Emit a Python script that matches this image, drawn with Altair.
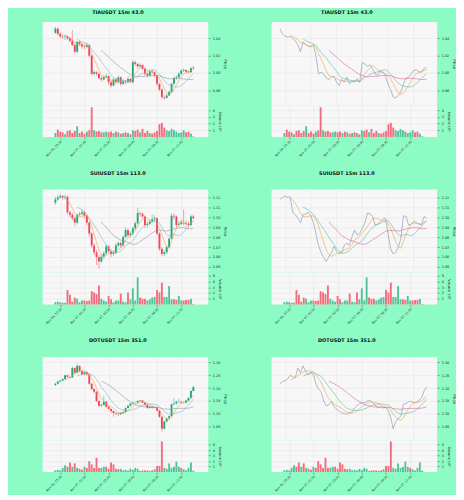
import altair as alt
import pandas as pd

# ---------------- data ----------------
titles = ["TIAUSDT 15m 43.0", "SUIUSDT 15m 113.0", "DOTUSDT 15m 351.0"]
tick_idx = [2, 12, 22, 32, 42, 52]
tick_labels = ["Nov 06, 22:30", "Nov 07, 01:00", "Nov 07, 03:30",
               "Nov 07, 06:00", "Nov 07, 08:30", "Nov 07, 11:00"]

tia_first_open = 1.046
tia_close = [1.051,1.045,1.042,1.0415,1.042,1.0396,1.037,1.032,1.0244,1.0358,
             1.033,1.0305,1.030,1.032,1.0198,0.9989,1.0008,0.999,0.994,0.9924,
             0.995,0.9962,0.9893,0.9855,0.9924,0.9893,0.995,0.9874,0.990,0.9893,
             0.9931,0.9893,1.0122,1.0103,1.0076,1.0091,1.0046,0.9989,0.997,1.0015,
             1.0008,0.997,0.9874,0.981,0.9722,0.9714,0.974,0.978,0.9874,0.994,
             0.995,0.999,1.0027,1.0034,1.0015,1.0008,1.0053,1.006]
tia_high = [1.053,1.052,1.047,1.044,1.044,1.043,1.041,1.049,1.034,1.037,
            1.037,1.035,1.033,1.035,1.033,1.021,1.003,1.002,1.000,0.996,
            0.997,0.999,0.997,0.991,0.994,0.994,0.997,0.996,0.993,0.992,
            0.996,0.994,1.015,1.014,1.011,1.011,1.010,1.006,1.000,1.004,
            1.004,1.002,0.998,0.988,0.982,0.974,0.976,0.980,0.989,0.996,
            0.997,1.001,1.004,1.005,1.004,1.003,1.007,1.008]
tia_low = [1.045,1.043,1.040,1.039,1.038,1.038,1.035,1.031,1.022,1.023,
           1.031,1.028,1.027,1.028,1.018,0.997,0.997,0.997,0.992,0.990,
           0.991,0.994,0.986,0.983,0.984,0.987,0.988,0.985,0.986,0.987,
           0.988,0.988,0.988,1.008,1.005,1.006,1.003,0.997,0.995,0.996,
           0.999,0.995,0.985,0.979,0.970,0.969,0.970,0.973,0.977,0.986,
           0.992,0.994,0.998,1.001,1.000,0.999,1.000,1.004]
tia_vol = [0.6,1.1,0.8,0.7,0.4,0.9,1.0,0.6,0.9,1.6,
           0.6,0.8,0.5,0.8,1.0,4.4,1.0,0.8,0.9,0.7,
           0.7,0.8,0.7,0.8,0.6,0.8,0.7,0.5,0.6,0.7,
           0.6,0.4,1.0,0.9,1.1,0.7,1.2,0.6,0.9,0.6,
           0.5,0.7,0.9,1.9,2.1,1.4,1.0,0.9,1.2,1.0,
           0.8,0.6,0.7,1.0,0.7,0.8,0.5,0.1]

sui_first_open = 1.115
sui_close = [1.1183,1.1203,1.1217,1.1203,1.121,1.1052,1.1028,1.0993,1.0948,1.1028,
             1.1038,1.1052,1.1017,1.0948,1.0838,1.0717,1.0648,1.0597,1.0555,1.0603,
             1.0638,1.0707,1.0659,1.0631,1.0645,1.0717,1.0741,1.0717,1.0803,1.0872,
             1.0821,1.0838,1.089,1.0941,1.1045,1.1038,1.101,1.0924,1.0934,1.0959,
             1.0983,1.0993,1.0838,1.0683,1.0631,1.0648,1.07,1.0786,1.1017,1.101,
             1.0924,1.0934,1.0948,1.0941,1.0934,1.0924,1.101,1.0993]
sui_high = [1.121,1.123,1.124,1.123,1.123,1.122,1.107,1.105,1.101,1.104,
            1.106,1.108,1.107,1.103,1.096,1.085,1.074,1.067,1.062,1.063,
            1.066,1.073,1.072,1.068,1.067,1.074,1.076,1.076,1.082,1.090,
            1.089,1.086,1.091,1.096,1.110,1.106,1.105,1.102,1.096,1.098,
            1.103,1.102,1.100,1.085,1.070,1.067,1.072,1.080,1.104,1.104,
            1.102,1.096,1.098,1.108,1.097,1.096,1.103,1.103]
sui_low = [1.113,1.117,1.119,1.118,1.118,1.103,1.100,1.097,1.091,1.093,
           1.101,1.102,1.099,1.092,1.081,1.069,1.062,1.052,1.048,1.054,
           1.058,1.062,1.064,1.060,1.061,1.063,1.070,1.069,1.070,1.079,
           1.080,1.080,1.082,1.087,1.093,1.101,1.099,1.090,1.090,1.092,
           1.095,1.096,1.082,1.066,1.061,1.061,1.063,1.069,1.078,1.098,
           1.090,1.091,1.092,1.092,1.091,1.090,1.091,1.098]
sui_vol = [0.4,0.5,0.4,0.3,0.3,2.5,1.7,0.5,1.2,1.0,
           0.4,0.7,0.7,0.6,0.7,2.3,2.1,1.8,3.3,1.0,
           0.7,0.5,1.5,0.9,0.4,0.7,0.7,1.9,0.5,0.4,
           2.1,0.9,2.8,0.7,4.7,1.2,1.0,1.0,0.7,0.9,
           1.2,1.3,2.5,2.1,3.8,1.3,1.3,3.2,0.9,0.9,
           0.8,1.5,0.7,0.7,0.8,0.8,1.0,0.1]

dot_first_open = 1.212
dot_close = [1.2167,1.2252,1.229,1.235,1.2498,1.2436,1.2412,1.278,1.2596,1.2865,
             1.2657,1.2534,1.262,1.2534,1.2167,1.196,1.186,1.1493,1.131,1.1346,
             1.1468,1.1272,1.1186,1.11,1.1027,1.1002,1.0978,1.1027,1.1064,1.1223,
             1.131,1.1395,1.1431,1.1431,1.1493,1.1517,1.1431,1.1346,1.1223,1.1272,
             1.1223,1.1248,1.1125,1.088,1.0414,1.0696,1.0818,1.0904,1.137,1.1395,
             1.1468,1.1468,1.1431,1.1431,1.1517,1.1615,1.1885,1.2044]
dot_high = [1.220,1.228,1.232,1.238,1.253,1.252,1.246,1.285,1.281,1.295,
            1.289,1.268,1.266,1.265,1.256,1.220,1.199,1.188,1.152,1.139,
            1.170,1.149,1.130,1.121,1.113,1.106,1.104,1.107,1.110,1.125,
            1.134,1.142,1.146,1.147,1.153,1.155,1.153,1.145,1.136,1.130,
            1.129,1.128,1.126,1.114,1.090,1.072,1.084,1.093,1.140,1.160,
            1.150,1.158,1.149,1.146,1.155,1.165,1.192,1.208]
dot_low = [1.209,1.215,1.223,1.227,1.233,1.241,1.238,1.240,1.256,1.258,
           1.262,1.250,1.250,1.249,1.212,1.192,1.180,1.145,1.125,1.127,
           1.131,1.123,1.112,1.104,1.088,1.094,1.090,1.095,1.098,1.104,
           1.120,1.128,1.137,1.139,1.141,1.146,1.140,1.131,1.119,1.120,
           1.119,1.120,1.108,1.083,1.030,1.038,1.066,1.078,1.088,1.134,
           1.136,1.142,1.140,1.139,1.140,1.148,1.160,1.187]
dot_vol = [0.3,0.4,0.3,0.75,1.25,0.95,1.75,0.95,1.6,0.75,
           0.6,0.4,0.95,0.75,2.0,1.4,0.75,2.6,0.75,0.75,
           0.95,0.95,0.6,1.75,1.4,0.6,0.5,0.6,0.3,0.4,
           0.3,0.6,0.4,0.75,0.6,0.2,0.3,0.3,0.3,0.2,
           0.3,0.5,1.1,1.1,5.6,0.75,0.6,1.55,0.75,0.95,
           1.9,0.95,0.75,0.5,0.3,0.75,1.75,0.25]

price_domains = [[0.9627, 1.0585], [1.044, 1.1283], [0.996, 1.321]]
price_ticks = [[0.98, 1.00, 1.02, 1.04],
               [1.05, 1.06, 1.07, 1.08, 1.09, 1.10, 1.11, 1.12],
               [1.05, 1.10, 1.15, 1.20, 1.25, 1.30]]
vol_domains = [[0, 4.7], [0, 5.5], [0, 5.8]]
vol_ticks = [[1, 2, 3, 4], [1, 2, 3, 4, 5], [1, 2, 3, 4, 5]]

# ---------------- styling ----------------
BG = "#8cfcc4"
UP, DOWN = "#22a97a", "#f0465a"
VUP, VDOWN = "#4cc496", "#f46c7c"
MA_LEFT = [(5, "#f2a04a"), (10, "#7db4cc"), (20, "#8e979e")]
CLOSE_RIGHT = "#7d90a4"
MA_RIGHT = [(5, "#f2a04a"), (10, "#5db8a2"), (20, "#d9679f")]

W, HP, HV = 167, 84, 32
XDOM = [-3.2, 61.1]
TITLE_OFFSETS = [7, 14, 14]

label_expr = "[" + ",".join("'" + t + "'" for t in tick_labels) + "][round((datum.value - 2) / 10)]"


def make_df(first_open, c, h, l, v):
    return pd.DataFrame({"i": list(range(len(c))), "open": [first_open] + c[:-1],
                         "high": h, "low": l, "close": c, "vol": v})


def xenc(show):
    if show:
        ax = alt.Axis(values=tick_idx, labelExpr=label_expr, labelAngle=-45,
                      labelFontSize=3, labelPadding=1, tickSize=2, tickWidth=0.5,
                      domain=False, grid=True, title=None, labelColor="#222")
    else:
        ax = alt.Axis(values=tick_idx, labels=False, ticks=False, domain=False,
                      grid=True, title=None)
    return alt.X("i:Q", scale=alt.Scale(domain=XDOM, nice=False, zero=False), axis=ax)


def updown(a, b):
    return alt.when(alt.datum.close >= alt.datum.open).then(alt.value(a)).otherwise(alt.value(b))


def price_chart(df, k, mode):
    ys = alt.Scale(domain=price_domains[k], nice=False, zero=False)
    ya = alt.Axis(orient="right", values=price_ticks[k], format=".2f", title="Price",
                  grid=True, labelFontSize=3.5, titleFontSize=4, tickSize=2,
                  tickWidth=0.5, labelPadding=2, titlePadding=3, domain=False,
                  titleFontWeight="normal", labelColor="#222", titleColor="#222")
    xe = xenc(False)
    base = alt.Chart(df)
    layers = []
    if mode == "candle":
        layers.append(base.mark_rule(strokeWidth=0.5).encode(
            x=xe, y=alt.Y("low:Q", scale=ys, axis=ya), y2="high:Q", color=updown(UP, DOWN)))
        layers.append(base.mark_bar(size=1.9).encode(
            x=xe, y=alt.Y("open:Q", scale=ys, axis=ya), y2="close:Q", color=updown(UP, DOWN)))
        mas = MA_LEFT
    else:
        layers.append(base.mark_line(strokeWidth=0.6, color=CLOSE_RIGHT).encode(
            x=xe, y=alt.Y("close:Q", scale=ys, axis=ya)))
        mas = MA_RIGHT
    for w, colr in mas:
        layers.append(base.transform_window(
            ma="mean(close)", n="count()", frame=[-(w - 1), 0], sort=[alt.SortField("i")]
        ).transform_filter(alt.datum.n == w).mark_line(strokeWidth=0.6, color=colr).encode(
            x=xe, y=alt.Y("ma:Q", scale=ys, axis=ya)))
    return alt.layer(*layers).properties(width=W, height=HP)


def volume_chart(df, k):
    ya = alt.Axis(orient="right", values=vol_ticks[k], format="d", title="Volume  10⁶",
                  grid=True, labelFontSize=3.5, titleFontSize=3.5, tickSize=2,
                  tickWidth=0.5, labelPadding=2, titlePadding=3, domain=False,
                  titleFontWeight="normal", labelColor="#222", titleColor="#222")
    return alt.Chart(df).mark_bar(size=1.9).encode(
        x=xenc(True),
        y=alt.Y("vol:Q", scale=alt.Scale(domain=vol_domains[k], nice=False), axis=ya),
        color=updown(VUP, VDOWN),
    ).properties(width=W, height=HV)


def cell(df, k, mode):
    return alt.vconcat(price_chart(df, k, mode), volume_chart(df, k), spacing=0).properties(
        title=alt.TitleParams(titles[k], fontSize=5, fontWeight="bold", anchor="middle",
                              offset=TITLE_OFFSETS[k], dx=-17, color="#111"))


dfs = [make_df(tia_first_open, tia_close, tia_high, tia_low, tia_vol),
       make_df(sui_first_open, sui_close, sui_high, sui_low, sui_vol),
       make_df(dot_first_open, dot_close, dot_high, dot_low, dot_vol)]

rows = [alt.hconcat(cell(dfs[k], k, "candle"), cell(dfs[k], k, "line"), spacing=45)
        for k in range(3)]

chart = alt.vconcat(*rows, spacing=13).properties(
    padding={"left": 35, "top": 0, "right": 0, "bottom": 0},
).configure(background=BG, font="DejaVu Sans").configure_view(
    fill="#f7f7f7", stroke=None
).configure_axis(gridColor="#e2e2e2", gridWidth=0.5, tickColor="#444")

chart.save("out.html", embed_options={"renderer": "svg", "actions": False})
